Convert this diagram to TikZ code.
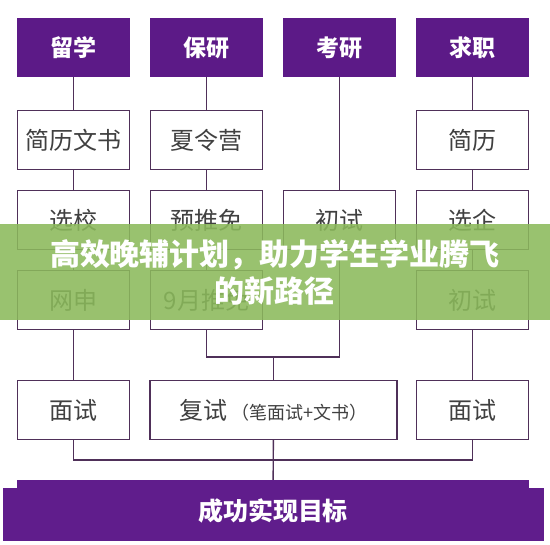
\documentclass[tikz,border=0pt]{standalone}
\usepackage{fontspec}
\setmainfont{Noto Sans CJK SC}
\usepackage{tikz}
\usetikzlibrary{calc}

\definecolor{headpurple}{HTML}{5C1A87}
\definecolor{goalpurple}{HTML}{601D8C}
\definecolor{linepurple}{HTML}{4F3059}
\definecolor{textgray}{HTML}{404040}
\definecolor{bannergreen}{HTML}{8BB95B}

\begin{document}
\begin{tikzpicture}[
	x=1pt, y=-1pt,
  line/.style = {draw=linepurple, line width=1.4pt},
  head/.style = {fill=headpurple, text=white, inner sep=0pt,
    minimum width=113pt, minimum height=59pt,
    font=\fontsize{23}{23}\selectfont\bfseries},
  stage/.style = {draw=linepurple, line width=1.4pt, fill=white, text=textgray, inner sep=0pt,
    minimum width=112pt, minimum height=59pt,
    font=\fontsize{24}{24}\selectfont},
  goalbox/.style = {fill=goalpurple, text=white, inner sep=0pt,
    minimum width=512pt, minimum height=61pt,
    font=\fontsize{25}{25}\selectfont\bfseries},
  slogan/.style = {text=white, align=center, inner sep=0pt,
    font=\fontsize{30}{37}\selectfont\bfseries}
  ]
	\useasboundingbox (0,0) rectangle (550,545);

	% column heads
	\node[head] (lx) at (73.5,47.5) {留学};
	\node[head] (by) at (206.5,47.5) {保研};
	\node[head] (ky) at (339.5,47.5) {考研};
	\node[head] (qz) at (472.5,47.5) {求职};

	% 留学
	\node[stage] (lx1) at (73.5,140) {简历文书};
	\node[stage] (lx2) at (73.5,220) {选校};
	\node[stage] (lx3) at (73.5,300) {网申};
	\node[stage] (lx4) at (73.5,410) {面试};

	% 保研
	\node[stage] (by1) at (206.5,140) {夏令营};
	\node[stage] (by2) at (206.5,220) {预推免};
	\node[stage] (by3) at (206.5,300) {9月推免};

	% 考研
	\node[stage] (ky1) at (339.5,220) {初试};

	% 求职
	\node[stage] (qz1) at (472.5,140) {简历};
	\node[stage] (qz2) at (472.5,220) {选企};
	\node[stage] (qz3) at (472.5,300) {初试};
	\node[stage] (qz4) at (472.5,410) {面试};

	% 复试
	\node[stage, minimum width=247pt] (fs) at (273.5,410) {复试\,{\fontsize{18}{18}\selectfont（笔面试+文书）}};

	\coordinate (@join) at (273.5,357);
	\coordinate (@base) at (273.5,460);

	\draw[line] (lx) -- (lx1);
	\draw[line] (lx1) -- (lx2);
	\draw[line] (lx2) -- (lx3);
	\draw[line] (lx3) -- (lx4);

	\draw[line] (by) -- (by1);
	\draw[line] (by1) -- (by2);
	\draw[line] (by2) -- (by3);

	\draw[line] (ky) -- (ky1);

	\draw[line] (qz) -- (qz1);
	\draw[line] (qz1) -- (qz2);
	\draw[line] (qz2) -- (qz3);
	\draw[line] (qz3) -- (qz4);

	\draw[line] (by3) |- (@join) -| (ky1);
	\draw[line] (@join) -- (fs);
	\draw[line] (lx4) |- (@base) -| (qz4);

	% goal
	\fill[goalpurple] (3,488) rectangle (544,541);
	\node[goalbox] (goal) at (273,510.5) {成功实现目标};
	\draw[line] (fs) -- (goal);

	% banner
	\fill[bannergreen, opacity=0.88] (0,224) rectangle (550,320);
	\node[slogan] (title) at (275,272.5) {高效晚辅计划，助力学生学业腾飞\\的新路径};
\end{tikzpicture}
\end{document}
